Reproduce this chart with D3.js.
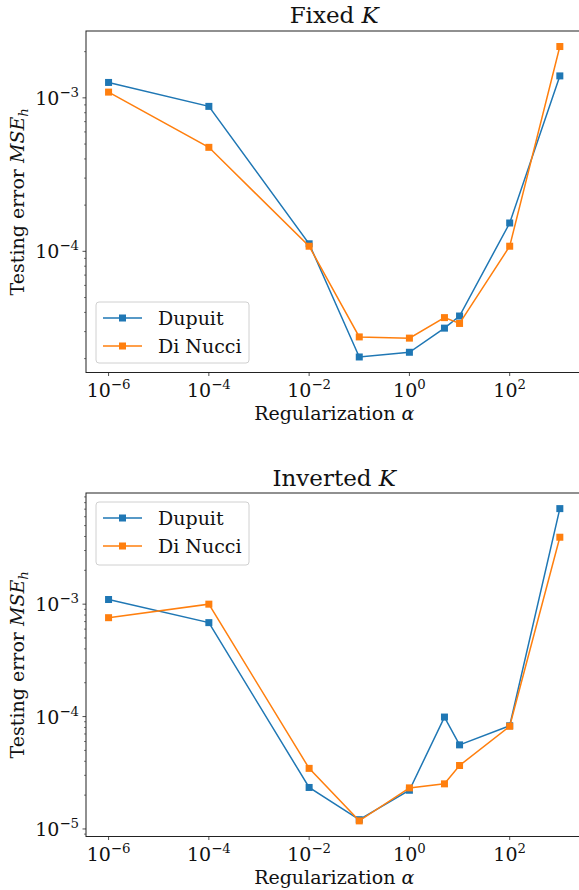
<!DOCTYPE html>
<html>
<head>
<meta charset="utf-8">
<script src="https://cdn.jsdelivr.net/npm/d3@7"></script>
<style>
  html, body { margin: 0; padding: 0; background: #fff; }
  svg { display: block; font-family: "DejaVu Serif", serif; }
</style>
</head>
<body>
<div id="chart"></div>
<script>
// Regularization strengths on the x axis
const alphas = [1e-6, 1e-4, 1e-2, 1e-1, 1, 5, 10, 100, 1000];

// Testing error MSE_h, fixed K
const fixedDupuit  = [1.26e-3, 8.8e-4, 1.12e-4, 2.05e-5, 2.2e-5, 3.16e-5, 3.79e-5, 1.53e-4, 1.39e-3];
const fixedDiNucci = [1.09e-3, 4.76e-4, 1.08e-4, 2.77e-5, 2.72e-5, 3.7e-5, 3.39e-5, 1.08e-4, 2.16e-3];

// Testing error MSE_h, inverted K
const invDupuit  = [1.1e-3, 6.85e-4, 2.34e-5, 1.21e-5, 2.21e-5, 9.9e-5, 5.6e-5, 8.28e-5, 7.08e-3];
const invDiNucci = [7.58e-4, 1.0e-3, 3.46e-5, 1.18e-5, 2.32e-5, 2.52e-5, 3.67e-5, 8.2e-5, 3.94e-3];

const seriesNames = ["Dupuit", "Di Nucci"];
const seriesColors = ["#1f77b4", "#ff7f0e"];

const xTickExps = [-6, -4, -2, 0, 2];

const W = 579, H = 890;
const svg = d3.select("#chart").append("svg")
  .attr("width", W).attr("height", H).attr("viewBox", `0 0 ${W} ${H}`);

// log-space extent padded by 5% on each side
function paddedLogDomain(values) {
  const lo = Math.log10(d3.min(values)), hi = Math.log10(d3.max(values));
  const pad = (hi - lo) * 0.05;
  return [Math.pow(10, lo - pad), Math.pow(10, hi + pad)];
}

const FS = 19;
const TITLE_FS = 23;

function powerLabel(sel, exp) {
  sel.append("tspan").text("10");
  sel.append("tspan").attr("dy", -FS * 0.42).attr("font-size", FS * 0.7)
    .text(exp < 0 ? "\u2212" + Math.abs(exp) : String(exp));
}

function panel(opts) {
  const { top, bottom, left, right, title, titleBaseline, data, legendBox } = opts;
  const g = svg.append("g");

  const x = d3.scaleLog().domain(paddedLogDomain(alphas)).range([left, right]);
  const allY = data.flat();
  const y = d3.scaleLog().domain(paddedLogDomain(allY)).range([bottom, top]);

  // clip for plotted lines
  const clipId = "clip" + Math.round(top);
  g.append("clipPath").attr("id", clipId).append("rect")
    .attr("x", left).attr("y", top).attr("width", right - left).attr("height", bottom - top);

  // series lines + markers
  const line = d3.line().x((d, i) => x(alphas[i])).y(d => y(d));
  const plot = g.append("g").attr("clip-path", `url(#${clipId})`);
  data.forEach((vals, s) => {
    plot.append("path").attr("d", line(vals))
      .attr("fill", "none").attr("stroke", seriesColors[s]).attr("stroke-width", 1.5);
    plot.selectAll(null).data(vals).enter().append("rect")
      .attr("x", (d, i) => x(alphas[i]) - 3.5)
      .attr("y", d => y(d) - 3.5)
      .attr("width", 7).attr("height", 7)
      .attr("fill", seriesColors[s]);
  });

  // spines
  g.append("rect").attr("x", left).attr("y", top)
    .attr("width", right - left).attr("height", bottom - top)
    .attr("fill", "none").attr("stroke", "#222").attr("stroke-width", 1);

  // x ticks
  xTickExps.forEach(e => {
    const px = x(Math.pow(10, e));
    g.append("line").attr("x1", px).attr("x2", px).attr("y1", bottom).attr("y2", bottom + 3.5)
      .attr("stroke", "#222").attr("stroke-width", 0.8);
    const t = g.append("text").attr("x", px).attr("y", bottom + 24)
      .attr("text-anchor", "middle").attr("font-size", FS).attr("fill", "#111");
    powerLabel(t, e);
  });

  // y ticks (major and minor)
  const [d0, d1] = y.domain();
  const e0 = Math.floor(Math.log10(d0)), e1 = Math.ceil(Math.log10(d1));
  for (let e = e0; e <= e1; e++) {
    for (let m = 1; m <= 9; m++) {
      const v = m * Math.pow(10, e);
      if (v < d0 || v > d1) continue;
      const py = y(v);
      const len = m === 1 ? 3.5 : 2;
      g.append("line").attr("x1", left - len).attr("x2", left).attr("y1", py).attr("y2", py)
        .attr("stroke", "#222").attr("stroke-width", m === 1 ? 0.8 : 0.6);
      if (m === 1) {
        const t = g.append("text").attr("x", left - 7).attr("y", py + 7)
          .attr("text-anchor", "end").attr("font-size", FS).attr("fill", "#111");
        powerLabel(t, e);
      }
    }
  }

  // title
  const tt = g.append("text").attr("x", (left + right) / 2).attr("y", titleBaseline)
    .attr("text-anchor", "middle").attr("font-size", TITLE_FS).attr("fill", "#111");
  tt.append("tspan").text(title + " ");
  tt.append("tspan").attr("font-style", "italic").text("K");

  // x label
  const xl = g.append("text").attr("x", (left + right) / 2).attr("y", bottom + 47)
    .attr("text-anchor", "middle").attr("font-size", FS).attr("fill", "#111");
  xl.append("tspan").text("Regularization ");
  xl.append("tspan").attr("font-style", "italic").text("\u03b1");

  // y label
  const cy = (top + bottom) / 2;
  const yl = g.append("text").attr("transform", `translate(24,${cy}) rotate(-90)`)
    .attr("text-anchor", "middle").attr("font-size", FS).attr("fill", "#111");
  yl.append("tspan").text("Testing error ");
  yl.append("tspan").attr("font-style", "italic").text("MSE");
  yl.append("tspan").attr("font-style", "italic").attr("font-size", FS * 0.7).attr("dy", 4).text("h");

  // legend
  const lg = g.append("g");
  lg.append("rect").attr("x", legendBox.x).attr("y", legendBox.y)
    .attr("width", legendBox.w).attr("height", legendBox.h).attr("rx", 3)
    .attr("fill", "#fff").attr("fill-opacity", 0.8)
    .attr("stroke", "#d0d0d0").attr("stroke-width", 1);
  seriesNames.forEach((name, s) => {
    const ry = legendBox.y + 16 + s * 28;
    lg.append("line").attr("x1", legendBox.x + 7).attr("x2", legendBox.x + 46)
      .attr("y1", ry).attr("y2", ry).attr("stroke", seriesColors[s]).attr("stroke-width", 1.5);
    lg.append("rect").attr("x", legendBox.x + 26.5 - 3.5).attr("y", ry - 3.5)
      .attr("width", 7).attr("height", 7).attr("fill", seriesColors[s]);
    lg.append("text").attr("x", legendBox.x + 62).attr("y", ry + 7)
      .attr("font-size", FS).attr("fill", "#111").text(name);
  });
}

panel({
  top: 31, bottom: 372.5, left: 86, right: 582.4,
  title: "Fixed", titleBaseline: 23,
  data: [fixedDupuit, fixedDiNucci],
  legendBox: { x: 96, y: 302, w: 153, h: 61 }
});

panel({
  top: 493, bottom: 836.5, left: 86, right: 582.4,
  title: "Inverted", titleBaseline: 486,
  data: [invDupuit, invDiNucci],
  legendBox: { x: 96, y: 502, w: 153, h: 63 }
});
</script>
</body>
</html>
